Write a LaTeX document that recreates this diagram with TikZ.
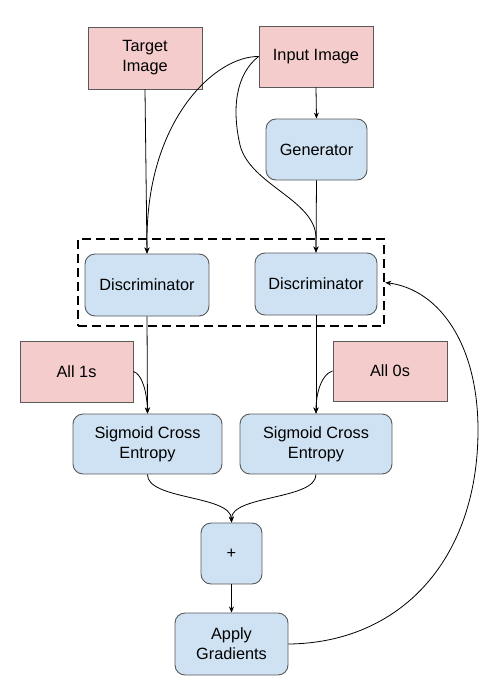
\documentclass[tikz,border=0pt]{standalone}
\usepackage{fontspec}
\setmainfont{Liberation Sans}
\usetikzlibrary{arrows.meta}
\definecolor{pinkfill}{HTML}{F4CCCC}
\definecolor{bluefill}{HTML}{CFE2F3}
\definecolor{edgegray}{HTML}{595959}
\begin{document}
\begin{tikzpicture}[x=1pt,y=-1pt,
  every node/.style={font=\fontsize{16.3}{20}\selectfont, align=center, inner sep=0pt},
  pinkbox/.style={draw=edgegray, line width=0.9pt, fill=pinkfill},
  bluebox/.style={draw=edgegray, line width=0.9pt, fill=bluefill, rounded corners=10pt},
  conn/.style={line width=0.8pt, -{Stealth[length=6pt,width=5pt]}},
  plainconn/.style={line width=0.8pt}]
\useasboundingbox (0,0) rectangle (491,688);
% nodes
\node[pinkbox, minimum width=114pt, minimum height=62pt] (target) at (145,58) {Target\\Image};
\node[pinkbox, minimum width=114pt, minimum height=61pt] (input) at (316,56.5) {Input Image};
\node[bluebox, minimum width=101pt, minimum height=61pt] (gen) at (316.5,149.5) {Generator};
\node[bluebox, minimum width=124pt, minimum height=62pt] (discL) at (147,285) {Discriminator};
\node[bluebox, minimum width=122pt, minimum height=62pt] (discR) at (316,284) {Discriminator};
\node[draw, dashed, line width=2.6pt, dash pattern=on 9pt off 5pt, minimum width=306pt, minimum height=87pt] (box) at (231,282.5) {};
\node[pinkbox, minimum width=113pt, minimum height=61pt] (all1) at (76.5,371.5) {All 1s};
\node[pinkbox, minimum width=114pt, minimum height=60pt] (all0) at (390,371) {All 0s};
\node[bluebox, minimum width=149pt, minimum height=60pt] (sigL) at (147.5,444) {Sigmoid Cross\\Entropy};
\node[bluebox, minimum width=152pt, minimum height=60pt] (sigR) at (316,444) {Sigmoid Cross\\Entropy};
\node[bluebox, minimum width=61pt, minimum height=61pt] (plus) at (231.5,553.5) {+};
\node[bluebox, minimum width=113pt, minimum height=62pt] (apply) at (231.5,644) {Apply\\Gradients};
% connectors
\draw[conn] (target.south) -- (discL.north);
\draw[conn] (input.west) .. controls (215,56) and (147,120) .. (147,240) -- (discL.north);
\draw[conn] (input.west) .. controls (235,75) and (232,110) .. (240,145)
  .. controls (250,185) and (316,200) .. (316,238) -- (discR.north);
\draw[conn] (input.south) -- (gen.north);
\draw[conn] (gen.south) -- (discR.north);
\draw[conn] (discL.south) -- (sigL.north);
\draw[conn] (discR.south) -- (sigR.north);
\draw[conn] (all1.east) .. controls (142,374) and (147,392) .. (sigL.north);
\draw[conn] (all0.west) .. controls (322,374) and (316,392) .. (sigR.north);
\draw[conn] (sigL.south) .. controls (147,500) and (231,495) .. (plus.north);
\draw[conn] (sigR.south) .. controls (316,500) and (231,495) .. (plus.north);
\draw[conn] (plus.south) -- (apply.north);
\draw[conn] (apply.east) .. controls (400,643) and (478,560) .. (478,430)
  .. controls (478,345) and (440,290) .. (box.east);
\end{tikzpicture}
\end{document}
